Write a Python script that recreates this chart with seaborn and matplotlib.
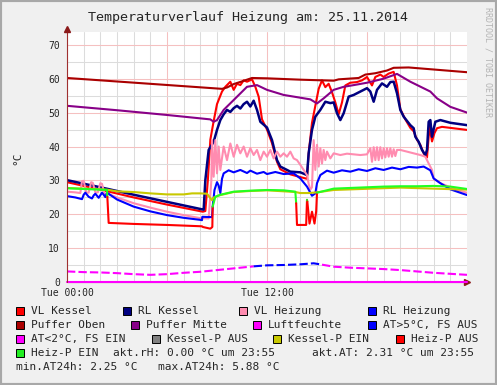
import matplotlib
matplotlib.use("Agg")
import matplotlib.pyplot as plt
import matplotlib.patches as patches
from matplotlib.ticker import FixedLocator
import pandas as pd
import seaborn as sns

# hours since Tue 00:00
vl_kessel_t = [0, 2, 4, 6, 8.15, 8.3, 8.45, 8.6, 8.8, 9.0, 9.3, 9.5, 9.8, 10.0, 10.2, 10.4, 10.6, 10.8, 11.1, 11.3,
               11.5, 11.7, 12.0, 12.3, 12.6, 12.8, 13.4, 14.0, 14.4, 14.5, 14.7, 14.9, 15.1, 15.3, 15.5, 15.7, 15.9,
               16.1, 16.3, 16.5, 16.7, 17.0, 17.4, 17.7, 18.0, 18.3, 18.5, 18.8, 19.0, 19.3, 19.6, 19.8, 20.0, 20.3,
               20.6, 20.8, 21.0, 21.2, 21.4, 21.6, 21.75, 21.9, 22.05, 22.2, 22.5, 24]
vl_kessel = [29.5, 27.3, 25.0, 22.9, 20.8, 21.0, 30.0, 42.0, 47.5, 52.5, 56.2, 57.6, 59.1, 56.7, 58.5, 58.1, 59.5, 59.1,
             59.8, 57.6, 54.7, 48.0, 45.0, 41.0, 35.5, 33.3, 31.8, 31.0, 30.5, 38.0, 47.0, 52.0, 57.0, 59.5, 57.5, 58.5,
             56.0, 53.0, 49.5, 53.0, 58.0, 58.8, 59.0, 59.5, 60.5, 58.0, 60.5, 61.2, 60.5, 61.5, 62.0, 58.0, 51.0, 48.0,
             45.5, 44.5, 42.0, 40.5, 38.0, 36.8, 45.8, 41.5, 44.0, 45.4, 45.8, 44.9]

rl_kessel_t = [0, 2, 4, 6, 8.1, 8.2, 8.3, 8.5, 8.8, 9.0, 9.2, 9.4, 9.6, 9.8, 10.0, 10.2, 10.4, 10.6, 10.8, 11.0, 11.2,
               11.4, 11.6, 12.0, 12.3, 12.6, 12.8, 13.4, 14.0, 14.4, 14.5, 14.7, 14.9, 15.2, 15.5, 15.8, 16.0, 16.2,
               16.4, 16.6, 16.9, 17.2, 17.6, 18.0, 18.2, 18.4, 18.6, 18.9, 19.2, 19.4, 19.6, 19.8, 20.0, 20.2, 20.6,
               20.8, 20.9, 21.1, 21.3, 21.5, 21.6, 21.7, 21.8, 21.9, 22.1, 22.4, 23, 24]
rl_kessel = [30.1, 28.0, 25.8, 23.7, 21.5, 21.4, 30.1, 39.0, 41.4, 44.9, 47.8, 49.5, 50.8, 50.2, 51.3, 52.0, 51.2, 52.5,
             53.2, 51.8, 53.5, 50.8, 47.3, 45.6, 41.9, 36.0, 34.1, 32.6, 32.4, 31.6, 38.0, 44.9, 48.8, 50.8, 53.2, 52.8,
             53.0, 49.8, 47.8, 49.8, 54.7, 55.2, 56.2, 57.2, 56.2, 53.2, 56.7, 58.6, 57.6, 59.0, 59.1, 55.7, 50.8, 48.8,
             46.3, 45.4, 42.9, 41.4, 39.0, 37.5, 39.0, 47.3, 47.8, 42.9, 47.3, 47.8, 47.0, 46.3]

vl_heizung_t = [0, 0.5, 0.8, 0.9, 1.0, 1.15, 1.3, 1.45, 1.55, 1.7, 1.85, 2.0, 2.1, 2.25, 2.4, 3, 4, 5, 6, 7, 8.0, 8.5,
                8.66, 8.7, 8.8, 8.9, 9.0, 9.1, 9.2, 9.4, 9.6, 9.8, 10.0, 10.2, 10.4, 10.6, 10.8, 11.0, 11.2, 11.4, 11.6,
                11.8, 12.0, 12.2, 12.4, 12.6, 12.8, 13.0, 13.2, 13.4, 13.6, 13.8, 14.0, 14.2, 14.4, 14.5, 14.6, 14.7,
                14.8, 14.9, 15.0, 15.1, 15.2, 15.3, 15.4, 15.5, 15.6, 15.8, 16.0, 16.4, 16.8, 17.2, 17.6, 18.0, 18.2,
                18.3, 18.4, 18.5, 18.6, 18.7, 18.8, 18.9, 19.0, 19.1, 19.2, 19.3, 19.4, 19.5, 19.6, 19.7, 19.8, 20.0,
                20.4, 20.8, 21.2, 21.5, 21.7, 21.9, 22.0, 22.4, 22.8, 23.4, 24.0]
vl_heizung = [26.7, 26.5, 26.3, 29.8, 29.9, 26.5, 26.4, 29.5, 29.3, 26.5, 26.5, 29.2, 29.0, 26.0, 26.2, 25.0, 23.3, 22.0,
              20.8, 19.8, 18.9, 18.8, 30.0, 41.9, 31.1, 41.9, 32.1, 40.0, 33.1, 40.0, 36.0, 40.9, 37.0, 40.5, 38.0, 40.0,
              37.0, 39.5, 37.5, 39.0, 36.0, 38.5, 37.0, 39.0, 36.5, 38.5, 37.0, 38.0, 37.0, 38.5, 36.5, 36.0, 34.6, 33.1,
              31.6, 29.0, 27.3, 28.0, 41.9, 33.1, 40.5, 34.1, 39.5, 35.0, 39.0, 36.0, 38.5, 36.5, 38.0, 37.5, 37.9, 37.7,
              37.5, 37.7, 39.5, 35.5, 39.8, 36.0, 39.8, 36.0, 39.8, 36.5, 39.5, 36.8, 39.5, 37.0, 39.5, 37.0, 39.2, 37.2,
              39.0, 39.0, 38.5, 38.0, 37.5, 37.0, 35.0, 33.1, 30.6, 29.2, 28.4, 27.2, 26.4]

rl_heizung_t = [0, 0.5, 0.9, 1.0, 1.1, 1.3, 1.5, 1.6, 1.7, 1.9, 2.1, 2.2, 2.3, 2.4, 3, 4, 5, 6, 7, 8.0, 8.1, 8.12, 8.7,
                8.75, 8.85, 9.0, 9.1, 9.2, 9.3, 9.4, 9.7, 10, 10.4, 10.8, 11, 11.4, 11.8, 12, 12.5, 13, 13.6, 14.0, 14.4,
                14.7, 14.9, 15.0, 15.2, 15.6, 16, 16.5, 17, 17.5, 18, 18.5, 19, 19.5, 20, 20.5, 21, 21.4, 21.8, 22,
                22.4, 23, 24]
rl_heizung = [25.4, 25.0, 24.5, 25.8, 26.4, 25.2, 24.7, 25.6, 26.1, 24.9, 26.4, 25.8, 25.1, 26.4, 24.4, 22.3, 20.9, 19.8,
              19.0, 18.4, 18.3, 19.3, 19.2, 22.8, 27.2, 29.5, 28.5, 26.3, 30.5, 32.1, 33.0, 32.4, 33.1, 32.2, 32.9, 32.0,
              32.5, 31.9, 32.5, 31.9, 32.1, 30.6, 28.2, 25.5, 26.2, 29.2, 31.6, 32.9, 32.3, 33.0, 32.6, 33.3, 32.8, 33.6,
              33.1, 33.8, 33.3, 34.0, 33.8, 34.1, 33.0, 30.6, 29.2, 27.4, 25.7]

puffer_oben_t = [0, 9.3, 9.6, 10.0, 10.5, 11.1, 12, 14, 16, 16.3, 17.5, 17.9, 18.5, 19.2, 19.6, 20.5, 24]
puffer_oben = [60.2, 57.0, 57.4, 58.4, 59.2, 60.2, 60.1, 59.7, 59.4, 59.8, 60.2, 61.2, 61.6, 62.4, 63.2, 63.3, 61.9]

puffer_mitte_t = [0, 3, 6, 8.6, 8.8, 9.0, 9.4, 10.0, 10.8, 11.4, 12, 13, 14.6, 15.0, 15.4, 16.0, 16.6, 17.2, 18, 19.0,
                  19.8, 20.6, 21.8, 22.2, 23, 24]
puffer_mitte = [52.0, 50.7, 49.3, 48.0, 47.3, 47.8, 50.8, 53.7, 57.6, 58.1, 56.7, 55.2, 53.9, 52.7, 54.2, 56.7, 57.6,
                58.1, 58.8, 60.0, 61.4, 59.1, 56.2, 54.2, 51.7, 50.0]

luftfeuchte_t = [0, 24]
luftfeuchte = [0.0, 0.0]

# outdoor temperature, 1 = FS AUS (blue), 0 = FS EIN (magenta)
at_t = [0, 1, 2, 3, 4, 5, 6, 7, 8, 9, 10, 11, 11.2, 12, 13, 14, 14.8, 15.3, 16, 17, 18, 19, 20, 21, 22, 23, 24]
at_v = [3.2, 3.0, 2.9, 2.7, 2.4, 2.2, 2.4, 2.8, 3.1, 3.6, 4.1, 4.6, 4.7, 5.0, 5.1, 5.3, 5.6, 5.2, 4.6, 4.3, 4.1, 3.9,
        3.6, 3.2, 2.8, 2.5, 2.2]
at_fs_aus = [0, 0, 0, 0, 0, 0, 0, 0, 0, 0, 0, 0, 1, 1, 1, 1, 1, 0, 0, 0, 0, 0, 0, 0, 0, 0, 0]

kessel_p_t = [0, 2.4, 3, 4, 5, 6, 7, 7.5, 8, 8.4, 8.6, 8.7, 8.8, 9.2, 10, 11, 12, 13.7, 14.0, 14.5, 15.0, 16, 20, 24]
kessel_p = [27.8, 27.3, 26.8, 26.6, 26.2, 25.9, 25.9, 26.2, 26.2, 26.1, 24.8, 24.2, 25.0, 25.7, 26.6, 26.9, 27.1, 26.6,
            26.3, 26.3, 26.5, 27.2, 27.9, 27.3]

heiz_p_t = [0, 1, 2, 2.4, 2.42, 2.5, 4, 6, 8.1, 8.15, 8.6, 8.72, 8.74, 8.9, 9.2, 10, 11, 12, 13, 13.7, 13.75, 13.8,
            14.35, 14.4, 14.42, 14.55, 14.7, 14.85, 14.95, 15.0, 16, 17, 18, 19, 20, 21, 22, 23, 24]
heiz_p = [27.7, 27.5, 27.3, 27.2, 25.2, 17.5, 17.2, 16.9, 16.5, 16.3, 15.8, 16.3, 22.3, 25.2, 25.8, 26.7, 27.0, 27.2,
          27.1, 26.7, 23.3, 16.9, 16.9, 24.3, 23.8, 17.3, 20.8, 17.3, 20.9, 26.4, 27.6, 27.8, 28.0, 28.2, 28.3, 28.3,
          28.4, 28.2, 27.5]
heiz_p_ein = [1, 1, 1, 1, 0, 0, 0, 0, 0, 0, 0, 0, 1, 1, 1, 1, 1, 1, 1, 1, 0, 0, 0, 1, 0, 0, 0, 0, 0, 1, 1, 1, 1, 1, 1,
              1, 1, 1, 1]

sns.set_style("white")
plt.rcParams['font.family'] = ['DejaVu Sans Mono']

W, H = 497, 385
fig = plt.figure(figsize=(W / 100, H / 100), dpi=100, facecolor='#f0f0f0')
ax = fig.add_axes([67 / W, (H - 282.3) / H, 400 / W, 250 / H])
ax.set_facecolor('white')


def draw(ts, vs, color, lw=1.5, **kw):
    df = pd.DataFrame({'t': ts, 'v': vs, 'seg': 0})
    sns.lineplot(data=df, x='t', y='v', units='seg', estimator=None, sort=False,
                 color=color, lw=lw, ax=ax, legend=False, **kw)


def draw_state(ts, vs, flags, c_on, c_off, **kw):
    # colour each stretch by the state at its start
    start = 0
    for i in range(1, len(ts)):
        if i == len(ts) - 1 or flags[i] != flags[start]:
            draw(ts[start:i + 1], vs[start:i + 1], c_on if flags[start] else c_off, **kw)
            start = i


draw(vl_kessel_t, vl_kessel, '#ff0000')
draw(rl_kessel_t, rl_kessel, '#000080', lw=1.8)
draw(vl_heizung_t, vl_heizung, '#ff8cb0')
draw(rl_heizung_t, rl_heizung, '#0000ff')
draw(puffer_oben_t, puffer_oben, '#aa0000')
draw(puffer_mitte_t, puffer_mitte, '#880088')
draw_state(at_t, at_v, at_fs_aus, '#0000ff', '#ff00ff', linestyle=(0, (4, 1.5)))
draw(kessel_p_t, kessel_p, '#c8c800')
draw_state(heiz_p_t, heiz_p, heiz_p_ein, '#22ff22', '#ff0000')
draw(luftfeuchte_t, luftfeuchte, '#ff00ff', clip_on=False)

ax.set_xlim(0, 24)
ax.set_ylim(0, 250 / 3.394)
ax.xaxis.set_major_locator(FixedLocator([0, 6, 12, 18]))
ax.xaxis.set_minor_locator(FixedLocator([h for h in range(1, 24) if h % 6]))
ax.set_xticklabels(['Tue 00:00', '', 'Tue 12:00', ''])
ax.yaxis.set_major_locator(FixedLocator(list(range(0, 71, 10))))
ax.yaxis.set_minor_locator(FixedLocator(list(range(5, 70, 10))))
ax.set_axisbelow(True)
ax.grid(which='minor', color='#dcdcdc', lw=0.75)
ax.grid(which='major', color='#f5c0c0', lw=0.75)
ax.tick_params(which='both', length=0, labelsize=7)
ax.tick_params(axis='y', pad=5)
ax.tick_params(axis='x', pad=4)
ax.set_xlabel('')
ax.set_ylabel('')
for s in ax.spines.values():
    s.set_visible(False)

# axes with arrow heads
ax.plot([0, 0], [0, 1.012], color='#a03030', lw=0.8, transform=ax.transAxes, clip_on=False)
ax.plot([0], [1.014], marker='^', ms=4.5, color='#8b1a1a', transform=ax.transAxes, clip_on=False)
ax.plot([1.0], [0], marker='>', ms=4.5, color='#8b1a1a', transform=ax.transAxes, clip_on=False, zorder=1)
ax.plot([0, 1.0], [0, 0], color='#a03030', lw=0.8, transform=ax.transAxes, clip_on=False, zorder=0.5)


def fx(x):
    return x / W


def fy(y):
    return 1 - y / H


fig.text(fx(248), fy(17), 'Temperaturverlauf Heizung am: 25.11.2014', ha='center', va='center', fontsize=9.6)
fig.text(fx(17), fy(158), '°C', rotation=90, ha='center', va='center', fontsize=8)
fig.text(fx(488), fy(62), 'RRDTOOL / TOBI OETIKER', rotation=270, ha='center', va='center',
         fontsize=6, color='#b4b4b4')

legend_rows = [
    (311, [(31, 'VL Kessel', '#ff0000'), (138, 'RL Kessel', '#000080'),
           (254, 'VL Heizung', '#ff8cb0'), (383, 'RL Heizung', '#0000ff')]),
    (325, [(31, 'Puffer Oben', '#aa0000'), (146, 'Puffer Mitte', '#880088'),
           (268, 'Luftfeuchte', '#ff00ff'), (383, 'AT>5°C, FS AUS', '#0000ff')]),
    (339, [(31, 'AT<2°C, FS EIN', '#ff00ff'), (167, 'Kessel-P AUS', '#808080'),
           (288, 'Kessel-P EIN', '#c8c800'), (411, 'Heiz-P AUS', '#ff0000')]),
    (353, [(31, 'Heiz-P EIN', '#22ee22')]),
]
for cy, items in legend_rows:
    for tx, label, col in items:
        fig.patches.append(patches.Rectangle((fx(tx - 15), fy(cy + 4)), 8 / W, 8 / H, transform=fig.transFigure,
                                             facecolor=col, edgecolor='black', lw=0.7))
        fig.text(fx(tx), fy(cy), label, ha='left', va='center', fontsize=8)

fig.text(fx(113), fy(353), 'akt.rH: 0.00 °C um 23:55', ha='left', va='center', fontsize=8)
fig.text(fx(312), fy(353), 'akt.AT: 2.31 °C um 23:55', ha='left', va='center', fontsize=8)
fig.text(fx(16), fy(367), 'min.AT24h: 2.25 °C', ha='left', va='center', fontsize=8)
fig.text(fx(158), fy(367), 'max.AT24h: 5.88 °C', ha='left', va='center', fontsize=8)

fig.patches.append(patches.Rectangle((0, 0), 1, 1, transform=fig.transFigure, fill=False,
                                     edgecolor='#a8a8a8', lw=3))

fig.savefig('out.png', dpi=100, facecolor=fig.get_facecolor())
